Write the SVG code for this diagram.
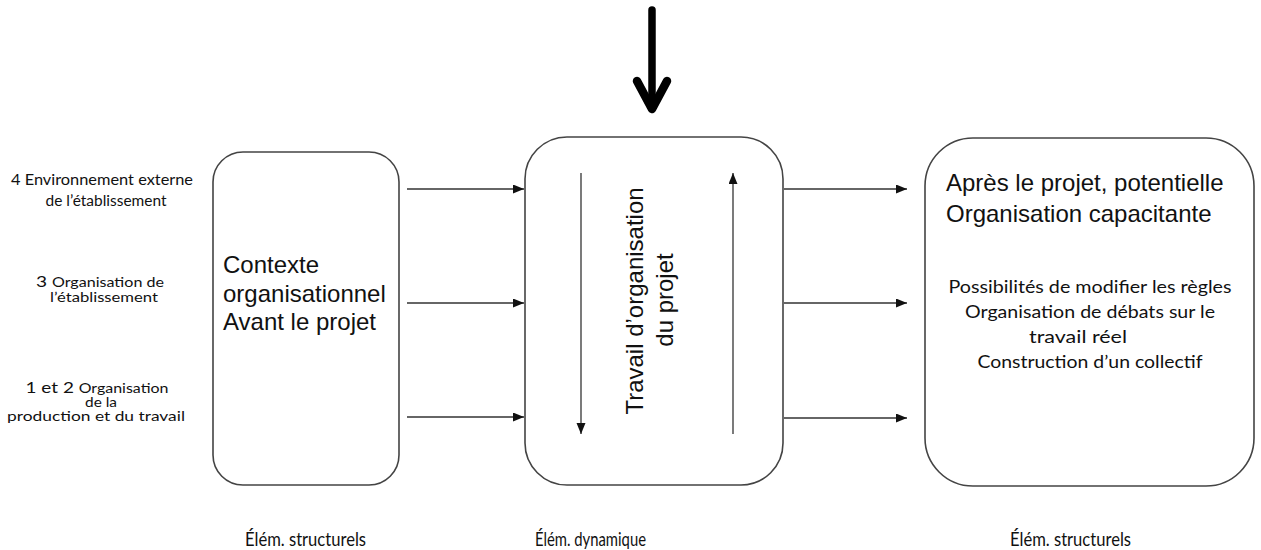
<svg xmlns="http://www.w3.org/2000/svg" width="1261" height="550" viewBox="0 0 1261 550">
  <defs>
    <marker id="ah" markerUnits="userSpaceOnUse" markerWidth="12" markerHeight="10" refX="11" refY="4.5" orient="auto">
      <path d="M0,0 L11,4.5 L0,9 z" fill="#111"/>
    </marker>
    <style>
      .box { fill: #fff; stroke: #444; stroke-width: 1.6; }
      .conn { stroke: #333; stroke-width: 1.3; fill: none; marker-end: url(#ah); }
      .arial { font-family: "Liberation Sans", Arial, sans-serif; fill: #111; }
      .cal { font-family: Lato, "Open Sans", sans-serif; fill: #111; }
    </style>
  </defs>

  <rect width="1261" height="550" fill="#fff"/>

  <!-- Big incoming arrow -->
  <g id="input-arrow" stroke="#000" fill="none" stroke-linecap="round" stroke-linejoin="round">
    <line x1="652" y1="10" x2="652" y2="106" stroke-width="7.5"/>
    <polyline points="637,81 652,109 667,81" stroke-width="8.5"/>
  </g>

  <!-- Left labels -->
  <g id="left-labels" class="cal" text-anchor="middle">
    <text x="102" y="185" font-size="15.5" textLength="182" lengthAdjust="spacingAndGlyphs">4 Environnement externe</text>
    <text x="106" y="206" font-size="15.5" textLength="121" lengthAdjust="spacingAndGlyphs">de l’établissement</text>
    <text x="100" y="287" textLength="128" lengthAdjust="spacingAndGlyphs"><tspan font-size="16">3 </tspan><tspan font-size="13.5">Organisation de</tspan></text>
    <text x="104" y="302" font-size="13.5" textLength="108" lengthAdjust="spacingAndGlyphs">l’établissement</text>
    <text x="97" y="393" textLength="143" lengthAdjust="spacingAndGlyphs"><tspan font-size="16">1 et 2 </tspan><tspan font-size="13.5">Organisation</tspan></text>
    <text x="101" y="407" font-size="13.5" textLength="32" lengthAdjust="spacingAndGlyphs">de la</text>
    <text x="96" y="421" font-size="13.5" textLength="178" lengthAdjust="spacingAndGlyphs">production et du travail</text>
  </g>

  <!-- Left box -->
  <g id="node-context">
    <rect class="box" x="213" y="152" width="186" height="333" rx="30" ry="30"/>
    <text class="arial" font-size="24" x="223" y="273">Contexte</text>
    <text class="arial" font-size="24" x="223" y="302">organisationnel</text>
    <text class="arial" font-size="24" x="223" y="330">Avant le projet</text>
  </g>

  <!-- Middle box -->
  <g id="node-travail">
    <rect class="box" x="525" y="137" width="258" height="348" rx="42" ry="42"/>
    <text class="arial" font-size="24" text-anchor="middle" transform="translate(643,301) rotate(-90)">Travail d’organisation</text>
    <text class="arial" font-size="24" text-anchor="middle" transform="translate(673,300) rotate(-90)">du projet</text>
  </g>

  <!-- Right box -->
  <g id="node-apres">
    <rect class="box" x="925" y="138" width="329" height="348" rx="48" ry="48"/>
    <text class="arial" font-size="24" x="946" y="191">Après le projet, potentielle</text>
    <text class="arial" font-size="24" x="946" y="222">Organisation capacitante</text>
    <g class="cal" font-size="17.5" text-anchor="middle">
      <text x="1090" y="293" textLength="283" lengthAdjust="spacingAndGlyphs">Possibilités de modifier les règles</text>
      <text x="1090" y="318" textLength="250" lengthAdjust="spacingAndGlyphs">Organisation de débats sur le</text>
      <text x="1078" y="343" textLength="98" lengthAdjust="spacingAndGlyphs">travail réel</text>
      <text x="1090" y="368" textLength="225" lengthAdjust="spacingAndGlyphs">Construction d’un collectif</text>
    </g>
  </g>

  <!-- Connectors -->
  <g id="connectors">
    <line class="conn" x1="407" y1="189" x2="524" y2="189"/>
    <line class="conn" x1="407" y1="303" x2="524" y2="303"/>
    <line class="conn" x1="407" y1="417" x2="524" y2="417"/>
    <line class="conn" x1="784" y1="189" x2="907" y2="189"/>
    <line class="conn" x1="784" y1="303" x2="907" y2="303"/>
    <line class="conn" x1="784" y1="418" x2="907" y2="418"/>
    <line class="conn" x1="581" y1="173" x2="581" y2="434"/>
    <line class="conn" x1="733" y1="434" x2="733" y2="173"/>
  </g>

  <!-- Bottom labels -->
  <g id="bottom-labels" class="cal" font-size="20">
    <text x="245" y="546" textLength="121" lengthAdjust="spacingAndGlyphs">Élém. structurels</text>
    <text x="535" y="546" textLength="111" lengthAdjust="spacingAndGlyphs">Élém. dynamique</text>
    <text x="1010" y="546" textLength="121" lengthAdjust="spacingAndGlyphs">Élém. structurels</text>
  </g>
</svg>
